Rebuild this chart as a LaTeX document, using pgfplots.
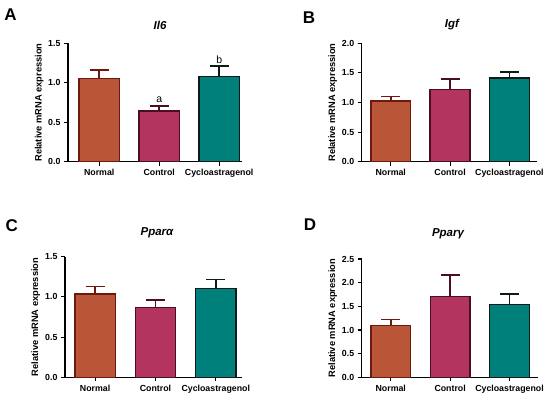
\documentclass[border=0pt]{standalone}
\usepackage{fontspec}
\setmainfont{Liberation Sans}
\usepackage{pgfplots}
\pgfplotsset{compat=1.18}
\definecolor{cN}{RGB}{186,86,56}
\definecolor{eN}{RGB}{110,25,15}
\definecolor{cC}{RGB}{180,52,96}
\definecolor{eC}{RGB}{75,12,38}
\definecolor{cY}{RGB}{0,128,122}
\definecolor{eY}{RGB}{15,25,25}
\pgfplotsset{
 panel/.style={
  scale only axis, clip=false,
  axis x line=bottom, axis y line=left,
  axis line style={line width=1.2pt,-},
  xtick={0,1,2}, xticklabels={Normal,Control,Cycloastragenol},
  ymin=0,
  tick style={line width=1.1pt, black}, major tick length=4pt, tick align=outside,
  ticklabel style={font=\fontsize{8.8}{9}\selectfont\bfseries},
  /pgf/number format/assume math mode=true,
  yticklabel style={/pgf/number format/.cd, fixed, fixed zerofill, precision=1},
  ylabel={Relative mRNA expression},
  ylabel style={font=\fontsize{9.3}{10}\selectfont\bfseries, at={(axis description cs:-0.165,0.5)}, anchor=center},
 },
 barN/.style={ybar, bar width=0.67, fill=cN, draw=eN, line width=1.5pt,
   error bars/.cd, y dir=plus, y explicit,
   error bar style={line width=1.5pt, eN},
   error mark options={rotate=90, mark size=9.5pt, line width=1.5pt, eN}},
 barC/.style={ybar, bar width=0.67, fill=cC, draw=eC, line width=1.5pt,
   error bars/.cd, y dir=plus, y explicit,
   error bar style={line width=1.5pt, eC},
   error mark options={rotate=90, mark size=9.5pt, line width=1.5pt, eC}},
 barY/.style={ybar, bar width=0.67, fill=cY, draw=eY, line width=1.5pt,
   error bars/.cd, y dir=plus, y explicit,
   error bar style={line width=1.5pt, eY},
   error mark options={rotate=90, mark size=9.5pt, line width=1.5pt, eY}},
}
\begin{document}
\begin{tikzpicture}
\path[use as bounding box] (0,0) rectangle (550pt,397pt);
% Panel A
\begin{axis}[panel, at={(68pt,235.3pt)}, anchor=south west,
  width=174pt, height=118.4pt, xmin=-0.52, xmax=2.38, ymax=1.5, ytick={0,0.5,1,1.5}]
\addplot[barN] coordinates {(0,1.056) +- (0,0.106)};
\addplot[barC] coordinates {(1,0.642) +- (0,0.064)};
\addplot[barY] coordinates {(2,1.077) +- (0,0.135)};
\node[anchor=base, font=\fontsize{10.5}{11}\selectfont] at (axis cs:1,0.745) {a};
\node[anchor=base, font=\fontsize{10.5}{11}\selectfont] at (axis cs:2,1.247) {b};
\end{axis}
% Panel B
\begin{axis}[panel, at={(361.7pt,235.3pt)}, anchor=south west,
  width=175pt, height=118.4pt, xmin=-0.49, xmax=2.46, ymax=2.0, ytick={0,0.5,1,1.5,2}]
\addplot[barN] coordinates {(0,1.025) +- (0,0.073)};
\addplot[barC] coordinates {(1,1.223) +- (0,0.174)};
\addplot[barY] coordinates {(2,1.414) +- (0,0.101)};
\end{axis}
% Panel C
\begin{axis}[panel, at={(65pt,19.7pt)}, anchor=south west,
  width=176.7pt, height=120.6pt, xmin=-0.5, xmax=2.43, ymax=1.5, ytick={0,0.5,1,1.5}]
\addplot[barN] coordinates {(0,1.036) +- (0,0.091)};
\addplot[barC] coordinates {(1,0.866) +- (0,0.095)};
\addplot[barY] coordinates {(2,1.102) +- (0,0.116)};
\end{axis}
% Panel D
\begin{axis}[panel, at={(361.7pt,19.7pt)}, anchor=south west,
  width=176.3pt, height=118.3pt, xmin=-0.49, xmax=2.48, ymax=2.5, ytick={0,0.5,1,1.5,2,2.5}]
\addplot[barN] coordinates {(0,1.099) +- (0,0.126)};
\addplot[barC] coordinates {(1,1.704) +- (0,0.458)};
\addplot[barY] coordinates {(2,1.535) +- (0,0.226)};
\end{axis}
% titles
\node[font=\fontsize{11.5}{12}\selectfont\bfseries\itshape] at (160pt,372pt) {Il6};
\node[font=\fontsize{11.5}{12}\selectfont\bfseries\itshape] at (452pt,372pt) {Igf};
\node[font=\fontsize{11.5}{12}\selectfont\bfseries\itshape] at (157pt,164.3pt) {Pparα};
\node[font=\fontsize{11.5}{12}\selectfont\bfseries\itshape] at (448pt,163.7pt) {Pparγ};
% panel letters
\node[font=\fontsize{17}{18}\selectfont\bfseries] at (10.5pt,382pt) {A};
\node[font=\fontsize{17}{18}\selectfont\bfseries] at (309pt,379pt) {B};
\node[font=\fontsize{17}{18}\selectfont\bfseries] at (11.7pt,171pt) {C};
\node[font=\fontsize{17}{18}\selectfont\bfseries] at (310pt,172pt) {D};
\end{tikzpicture}
\end{document}
